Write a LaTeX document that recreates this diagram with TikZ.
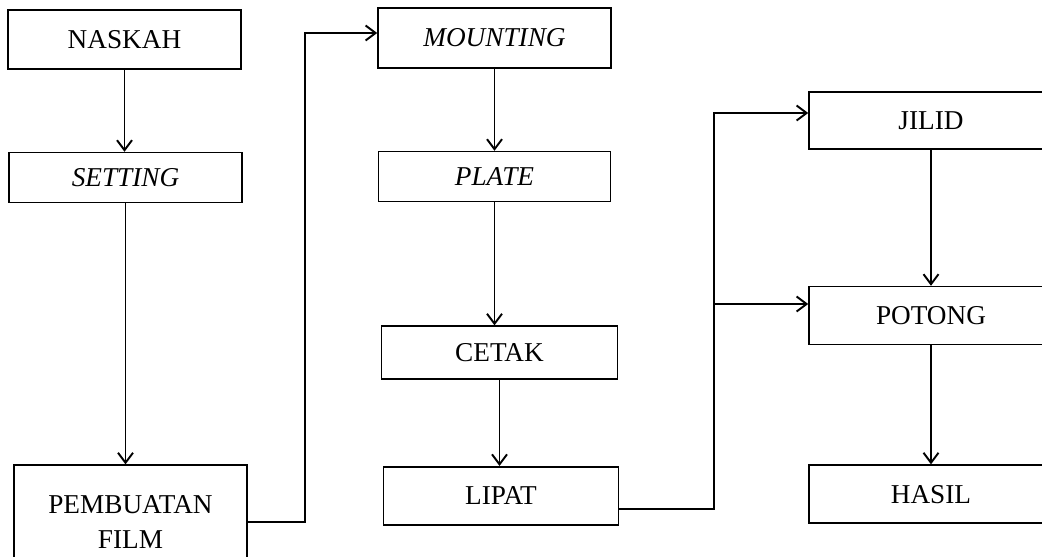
\documentclass[tikz,border=0pt]{standalone}
\usepackage{fontspec}
\setmainfont{Liberation Serif}
\usetikzlibrary{positioning,arrows.meta}
\tikzset{
  box/.style={draw, line width=0.9pt, minimum width=46.6mm, minimum height=11.8mm, inner sep=2pt, align=center, font=\fontsize{15.5}{20}\selectfont},
  arr/.style={-{Straight Barb[length=2mm, width=3mm, line width=1.1pt]}, line width=1pt},
  ln/.style={line width=1pt},
}
\begin{document}
\begin{tikzpicture}[x=0.2mm, y=-0.2mm]
\clip (0,0) rectangle (1042,556);
% kolom kiri
\node[box] (nk) at (124.5,39.5) {NASKAH};
\node[box, minimum height=10mm, below=16.4mm of nk, xshift=0.2mm] (st) {\textit{SETTING}};
\node[box, minimum height=22.6mm, below=52.2mm of st, xshift=1mm] (pf) {PEMBUATAN\\FILM};
% kolom tengah
\node[box, minimum height=12mm] (mt) at (494.5,38) {\textit{MOUNTING}};
\node[box, minimum width=46.4mm, minimum height=10mm, below=16.4mm of mt] (pl) {\textit{PLATE}};
\node[box, minimum width=47.2mm, minimum height=10.6mm, below=24.6mm of pl, xshift=1mm] (ct) {CETAK};
\node[box, minimum width=47mm, minimum height=11.6mm, below=17.2mm of ct, xshift=0.3mm] (li) {LIPAT};
% kolom kanan
\node[box, minimum width=48.8mm, minimum height=11.4mm] (jl) at (931,120.5) {JILID};
\node[box, minimum width=48.8mm, minimum height=11.6mm, below=27.2mm of jl] (pt) {POTONG};
\node[box, minimum width=48.8mm, minimum height=11.6mm, below=23.8mm of pt] (hs) {HASIL};
% titik belok
\coordinate (k1) at (305,33);
\coordinate (k2) at (714,113);
\coordinate (k3) at (714,304);
% panah
\draw[arr] (nk.south) -- (nk.south |- st.north);
\draw[arr] (st.south) -- (st.south |- pf.north);
\draw[arr] (pf.east) -| (k1) -- (k1 -| mt.west);
\draw[arr] (mt.south) -- (mt.south |- pl.north);
\draw[arr] (pl.south) -- (pl.south |- ct.north);
\draw[arr] (ct.south) -- (ct.south |- li.north);
\draw[arr] ([yshift=-2.6mm]li.east) -| (k2) -- (k2 -| jl.west);
\draw[arr] (k3) -- (k3 -| pt.west);
\draw[arr] (jl.south) -- (jl.south |- pt.north);
\draw[arr] (pt.south) -- (pt.south |- hs.north);
\end{tikzpicture}
\end{document}
